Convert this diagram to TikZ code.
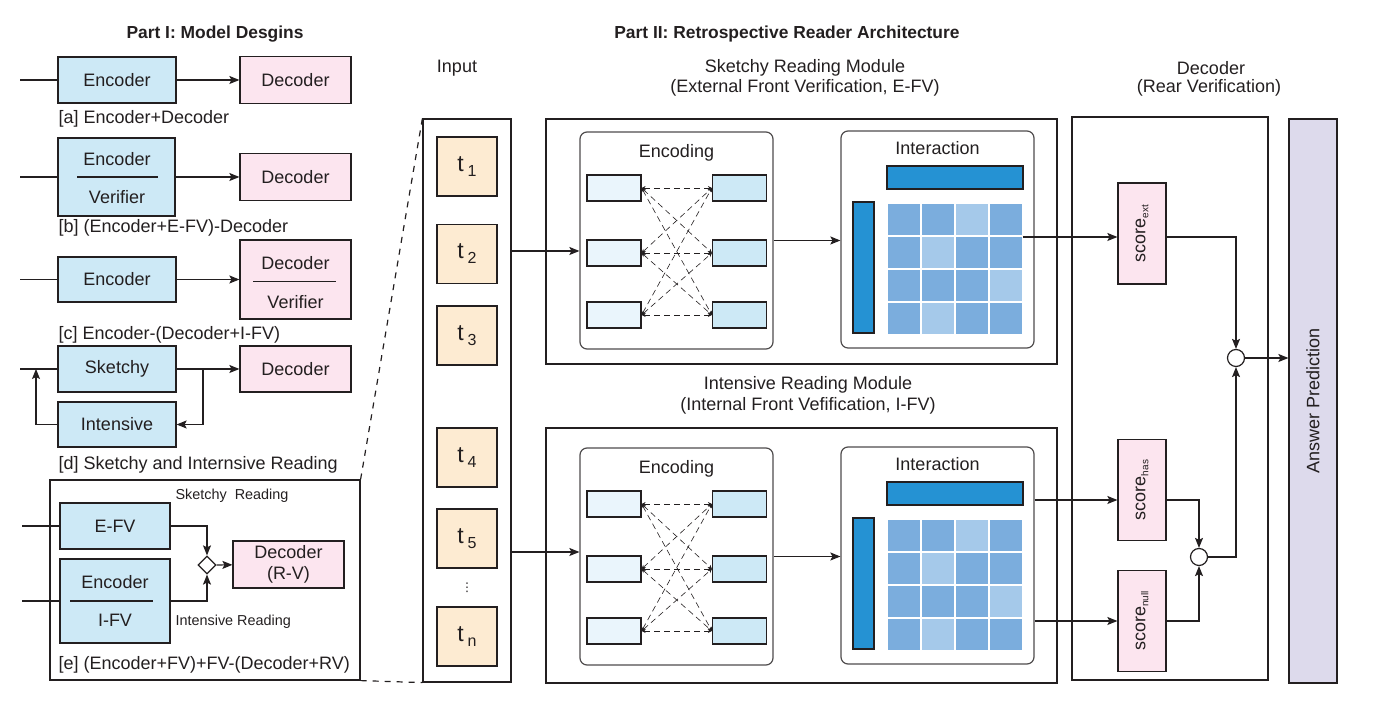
\documentclass[tikz,border=0pt]{standalone}
\usepackage{fontspec}
\setmainfont{Liberation Sans}
\newfontfamily\symfont{DejaVu Sans}
\usetikzlibrary{positioning, arrows.meta, shapes.geometric, calc}

\definecolor{ink}{HTML}{231F20}
\definecolor{encblue}{HTML}{CDE9F6}
\definecolor{decpink}{HTML}{FCE5EF}
\definecolor{tokorange}{HTML}{FDEBD2}
\definecolor{celllight}{HTML}{EAF5FC}
\definecolor{barblue}{HTML}{2592D3}
\definecolor{gridmid}{HTML}{7BADDD}
\definecolor{gridlow}{HTML}{A5C9EA}
\definecolor{ansviolet}{HTML}{DDDAEC}

\newcommand{\toksub}[1]{\raisebox{-2.5pt}{\fontsize{8}{8}\selectfont #1}}
\newcommand{\scoresub}[1]{\raisebox{-1.5pt}{\fontsize{5}{5}\selectfont #1}}

\tikzset{
  box/.style={draw=ink, inner sep=0pt, align=center},
  sz/.style 2 args={minimum width=#1*0.5pt, minimum height=#2*0.5pt},
  enc/.style={box, fill=encblue},
  dec/.style={box, fill=decpink},
  tok/.style={box, fill=tokorange, sz={60}{59}, font=\fontsize{11.5}{12}\selectfont},
  frame/.style={draw=ink, inner sep=0pt},
  module/.style={draw=ink!80, rounded corners=3.5pt, inner sep=0pt},
  cellL/.style={box, fill=celllight, sz={54}{26}},
  cellR/.style={box, fill=encblue, sz={54}{26}},
  bar/.style={box, fill=barblue},
  score/.style={box, fill=decpink, sz={48}{101}},
  mix/.style={circle, draw=ink, fill=white, minimum size=8.5pt, inner sep=0pt},
  arr/.style={-{Stealth[length=5pt,width=4pt,inset=1pt]}},
  link/.style={densely dashed, line width=0.3pt,
    {Stealth[length=2pt,width=2pt]}-{Stealth[length=2pt,width=2pt]}},
  caption/.style={anchor=west, inner sep=0pt},
  heading/.style={font=\fontsize{8.7}{10.4}\selectfont\bfseries},
  small/.style={anchor=west, inner sep=0pt, font=\fontsize{7.2}{8.6}\selectfont},
}

\begin{document}
\begin{tikzpicture}[x=0.5pt, y=-0.5pt, ink, line width=0.6pt,
                    font=\fontsize{9}{10.8}\selectfont]
\useasboundingbox (0,0) rectangle (1378,704);

% ---------------- Part I
\node[heading] (p1title) at (215,34) {Part I: Model Desgins};

% [a]
\coordinate (a_in) at (20,80);
\node[enc, sz={118}{46}] (a_enc) at (117,80) {Encoder};
\node[dec, sz={111}{47}] (a_dec) at (295.5,80) {Decoder};
\draw (a_in) -- (a_enc);
\draw[arr] (a_enc) -- (a_dec);
\node[caption] (a_cap) at (58,119) {[a] Encoder+Decoder};

% [b]
\coordinate (b_in) at (20,177);
\node[enc, sz={117}{78}] (b_enc) at (116.5,177) {};
\node (b_top) at (117,159) {Encoder};
\node (b_bot) at (117,197) {Verifier};
\draw ([xshift=10pt]b_enc.west) -- ([xshift=-9pt]b_enc.east);
\node[dec, sz={111}{47}] (b_dec) at (295.5,177) {Decoder};
\draw (b_in) -- (b_enc);
\draw[arr] (b_enc) -- (b_dec);
\node[caption] (b_cap) at (58,228) {[b] (Encoder+E-FV)-Decoder};

% [c]
\coordinate (c_in) at (20,279.5);
\node[enc, sz={118}{45}] (c_enc) at (117,279.5) {Encoder};
\node[dec, sz={111}{79}] (c_dec) at (295.5,279.5) {};
\node (c_top) at (295.5,263) {Decoder};
\node (c_bot) at (295.5,302) {Verifier};
\draw ([xshift=7pt,yshift=-1pt]c_dec.west) -- ([xshift=-8pt,yshift=-1pt]c_dec.east);
\draw (c_in) -- (c_enc);
\draw[arr] (c_enc) -- (c_dec);
\node[caption] (c_cap) at (58,335) {[c] Encoder-(Decoder+I-FV)};

% [d]
\coordinate (d_in) at (20,369);
\node[enc, sz={118}{46}] (d_sk) at (117,369) {Sketchy};
\node[dec, sz={111}{46}] (d_dec) at (295.5,369) {Decoder};
\node[enc, sz={118}{45}] (d_int) at (117,424.5) {Intensive};
\coordinate (d_fork) at (203,369);
\coordinate (d_back) at (36,369);
\draw (d_in) -- (d_sk);
\draw[arr] (d_sk) -- (d_dec);
\draw[arr] (d_fork) |- (d_int.east);
\draw[arr] (d_int.west) -| (d_back);
\node[caption] (d_cap) at (58,465) {[d] Sketchy and Internsive Reading};

% [e]
\node[frame, sz={310}{200}] (e_frame) at (205,580) {};
\coordinate (e_in1) at (22,526);
\coordinate (e_in2) at (22,601);
\node[small] (e_sk) at (175,496) {Sketchy\ \ Reading};
\node[enc, sz={110}{46}] (e_efv) at (115,526) {E-FV};
\node[enc, sz={110}{84}] (e_ifv) at (115,601) {};
\node (e_top) at (115,582) {Encoder};
\node (e_bot) at (115,620) {I-FV};
\draw ([xshift=5.5pt]e_ifv.west) -- ([xshift=-9pt]e_ifv.east);
\node[diamond, draw=ink, fill=white, aspect=1, inner sep=0pt,
      minimum width=9pt, minimum height=9pt] (e_mix) at (207,565) {};
\node[dec, sz={111}{47}] (e_dec) at (288.5,564.5) {Decoder\\(R-V)};
\node[small] (e_int) at (175,622) {Intensive Reading};
\draw (e_in1) -- (e_efv);
\draw (e_in2) -- (e_ifv);
\draw[arr] (e_efv.east) -| (e_mix.north);
\draw[arr] (e_ifv.east) -| (e_mix.south);
\draw[arr] (e_mix) -- (e_dec);
\node[caption] (e_cap) at (58,665) {[e] (Encoder+FV)+FV-(Decoder+RV)};

% ---------------- Part II
\node[heading] (p2title) at (787,34) {Part II: Retrospective Reader Architecture};
\node (in_lab) at (457,68) {Input};
\node (sk_lab) at (805,68) {Sketchy Reading Module};
\node (sk_sub) at (805,88) {(External Front Verification, E-FV)};
\node (in_title) at (808,385) {Intensive Reading Module};
\node (in_sub) at (808,406) {(Internal Front Vefification, I-FV)};
\node (dec_lab) at (1211,68) {Decoder};
\node (dec_sub) at (1209,88) {(Rear Verification)};

% input column
\node[frame, sz={88}{563}] (in_col) at (467,400.5) {};
\foreach \i/\y in {1/166.5, 2/254, 3/335.5, 4/457.5, 5/538.5, n/636.5}
  \node[tok] (t\i) at (467,\y) {t\,\toksub{\i}};
\node (t_dots) at (467,588) {\symfont\fontsize{6}{6}\selectfont ⋮};

\draw[dashed] (e_frame.north east) -- (in_col.north west);
\draw[dashed] (e_frame.south east) -- (in_col.south west);

% modules
\node[frame, sz={511}{245}] (sk_mod) at (801.5,241.5) {};
\node[frame, sz={511}{255}] (in_mod) at (801.5,555.5) {};

\foreach \m/\dy in {sk/0, in/316} {
  % encoding
  \node[module, sz={193}{217}] (\m_enc) at (676.5,240.5+\dy) {};
  \node (\m_enclab) at (676.5,153+\dy) {Encoding};
  \foreach \k/\cy in {1/188, 2/253, 3/315} {
    \node[cellL] (\m_l\k) at (614,\cy+\dy) {};
    \node[cellR] (\m_r\k) at (739.5,\cy+\dy) {};
  }
  \foreach \i in {1,2,3}
    \foreach \j in {1,2,3}
      \draw[link] (\m_l\i.east) -- (\m_r\j.west);
  % interaction
  \node[module, sz={193}{217}] (\m_int) at (937.5,239.5+\dy) {};
  \node (\m_intlab) at (937.5,148+\dy) {Interaction};
  \node[bar, sz={136}{23}] (\m_top) at (955,177.5+\dy) {};
  \node[bar, sz={21}{131}] (\m_side) at (863.5,267.5+\dy) {};
  \foreach \c in {0,...,3}
    \foreach \r in {0,...,3}
      \fill[gridmid] (887.8+34*\c, 203.8+33*\r+\dy) rectangle ++(32.4,31.4);
  \foreach \c/\r in {2/0, 1/1, 3/2, 1/3}
    \fill[gridlow] (887.8+34*\c, 203.8+33*\r+\dy) rectangle ++(32.4,31.4);
  \draw[arr] (\m_enc.east) -- (\m_enc.east -| \m_int.west);
}

\coordinate (sk_feed) at (in_col.east |- 0,251);
\coordinate (in_feed) at (in_col.east |- 0,552);
\draw[arr] (sk_feed) -- (sk_feed -| sk_enc.west);
\draw[arr] (in_feed) -- (in_feed -| in_enc.west);

% decoder
\node[frame, sz={196}{563}] (dec_box) at (1170,398.5) {};
\node[score] (s_ext) at (1142,233.5) {\rotatebox{90}{score\scoresub{ext}}};
\node[score] (s_has) at (1142,490) {\rotatebox{90}{score\scoresub{has}}};
\node[score] (s_null) at (1142,621) {\rotatebox{90}{score\scoresub{null}}};
\node[mix] (j_top) at (1236,358) {};
\node[mix] (j_low) at (1199,557) {};
\node[box, fill=ansviolet, sz={48}{564}] (ans) at (1313,401)
  {\rotatebox{90}{Answer Prediction}};

\coordinate (sk_out) at (1023,237);
\coordinate (in_has) at (in_int.east |- 0,500);
\coordinate (in_null) at (in_int.east |- 0,621);
\draw[arr] (sk_out) -- (sk_out -| s_ext.west);
\draw[arr] (in_has) -- (in_has -| s_has.west);
\draw[arr] (in_null) -- (in_null -| s_null.west);
\draw[arr] (sk_out -| s_ext.east) -| (j_top.north);
\draw[arr] (in_has -| s_has.east) -| (j_low.north);
\draw[arr] (s_null.east) -| (j_low.south);
\draw[arr] (j_low.east) -| (j_top.south);
\draw[arr] (j_top.east) -- (j_top -| ans.west);
\end{tikzpicture}
\end{document}
